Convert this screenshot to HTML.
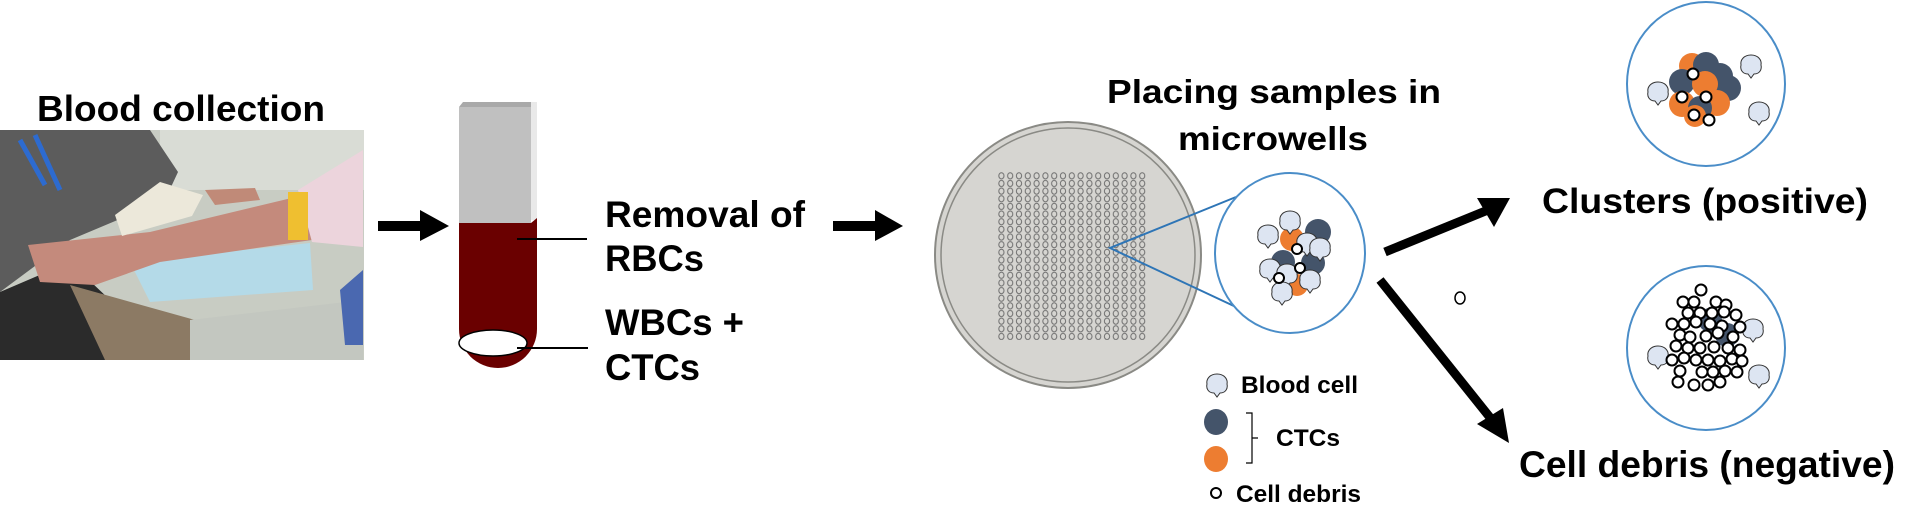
<!DOCTYPE html>
<html><head><meta charset="utf-8"><style>
html,body{margin:0;padding:0;background:#fff;}
svg{display:block;}
text{font-family:"Liberation Sans",Arial,sans-serif;font-weight:bold;fill:#000;}
</style></head><body>
<svg width="1922" height="523" viewBox="0 0 1922 523" xmlns="http://www.w3.org/2000/svg">
<defs>
<symbol id="bc" viewBox="-12 -12 24 26">
<path d="M-3,9 C-9,9 -11,4 -10,0 C-11,-5 -7,-10 0,-10 C7,-10 11,-5 10,0 C11,4 9,9 3,9 L0,13 Z" fill="#dde5f2" stroke="#333" stroke-width="1"/>
</symbol>
<pattern id="mw" x="997" y="172" width="8.8" height="7.65" patternUnits="userSpaceOnUse">
<ellipse cx="4.4" cy="3.8" rx="2.6" ry="3.1" fill="none" stroke="#6e6e6e" stroke-width="1"/>
</pattern>
</defs>

<!-- Photo -->
<g>
<rect x="0" y="130" width="364" height="230" fill="#c8ccc3"/>
<rect x="160" y="130" width="204" height="60" fill="#d9dcd5"/>
<polygon points="0,130 150,130 178,172 165,200 70,240 0,292" fill="#5c5c5c"/>
<polygon points="0,292 70,262 110,300 195,360 0,360" fill="#2b2b2b"/>
<polygon points="70,285 195,320 195,360 105,360" fill="#8c7a64"/>
<polygon points="190,320 363,300 363,360 190,360" fill="#c3c7c0"/>
<polygon points="130,262 310,243 313,290 150,302" fill="#b4dae8"/>
<polygon points="28,245 150,232 300,196 312,240 160,262 95,285 40,282" fill="#c48a7c"/>
<polygon points="298,190 363,150 363,247 312,242" fill="#ecd4dc"/>
<rect x="288" y="192" width="20" height="48" fill="#efbf30"/>
<polygon points="115,215 160,182 203,195 192,216 122,236" fill="#ece8da"/>
<polygon points="205,190 255,188 260,200 215,205" fill="#c08a78"/>
<path d="M20,140 L45,185 M35,135 L60,190" stroke="#2d6bd0" stroke-width="5"/>
<polygon points="340,290 363,270 363,345 345,345" fill="#4a68b0"/>
</g>
<text x="37" y="121" font-size="36" textLength="288" lengthAdjust="spacingAndGlyphs">Blood collection</text>

<!-- arrow 1 -->
<polygon points="378,221 420,221 420,210 449,226 420,241 420,231 378,231" fill="#000"/>

<!-- tube -->
<polygon points="459,107 463,102 537,102 531,107" fill="#a9a9a9"/>
<rect x="459" y="107" width="72" height="116" fill="#c0c0c0"/>
<rect x="531" y="102" width="6" height="118" fill="#e9e9e9"/>
<path d="M459,223 L531,223 L537,218 L537,329 A39,39 0 0 1 459,329 Z" fill="#6a0000"/>
<ellipse cx="493" cy="343" rx="34" ry="13" fill="#fff" stroke="#000" stroke-width="1.5"/>
<line x1="517" y1="239" x2="587" y2="239" stroke="#000" stroke-width="2"/>
<line x1="517" y1="348" x2="588" y2="348" stroke="#000" stroke-width="2"/>
<text x="605" y="227" font-size="37" textLength="200" lengthAdjust="spacingAndGlyphs">Removal of</text>
<text x="605" y="271" font-size="37" textLength="99" lengthAdjust="spacingAndGlyphs">RBCs</text>
<text x="605" y="335" font-size="37" textLength="139" lengthAdjust="spacingAndGlyphs">WBCs +</text>
<text x="605" y="380" font-size="37" textLength="95" lengthAdjust="spacingAndGlyphs">CTCs</text>

<!-- arrow 2 -->
<polygon points="833,221 875,221 875,210 903,226 875,241 875,231 833,231" fill="#000"/>

<!-- dish -->
<circle cx="1068" cy="255" r="133" fill="#d6d5d1" stroke="#8a8a85" stroke-width="2"/>
<circle cx="1068" cy="255" r="127" fill="none" stroke="#8a8a85" stroke-width="1.5"/>
<rect x="997" y="172" width="150" height="168" fill="url(#mw)"/>
<polyline points="1236,197 1110,248 1236,307" fill="none" stroke="#2e75b6" stroke-width="2"/>
<ellipse cx="1290" cy="253" rx="75" ry="80" fill="#fff" stroke="#4a8dc8" stroke-width="2"/>
<circle cx="1292" cy="239" r="12" fill="#ed7d31"/>
<circle cx="1318" cy="232" r="13" fill="#44546a"/>
<circle cx="1283" cy="262" r="12" fill="#44546a"/>
<circle cx="1313" cy="263" r="12" fill="#44546a"/>
<circle cx="1297" cy="285" r="11" fill="#ed7d31"/>
<use href="#bc" x="1256" y="223" width="24" height="26"/>
<use href="#bc" x="1278" y="209" width="24" height="26"/>
<use href="#bc" x="1295" y="231" width="24" height="26"/>
<use href="#bc" x="1308" y="236" width="24" height="26"/>
<use href="#bc" x="1258" y="257" width="24" height="26"/>
<use href="#bc" x="1275" y="262" width="24" height="26"/>
<use href="#bc" x="1298" y="268" width="24" height="26"/>
<use href="#bc" x="1270" y="280" width="24" height="26"/>
<circle cx="1297" cy="249" r="5" fill="#fff" stroke="#000" stroke-width="2"/>
<circle cx="1300" cy="268" r="5" fill="#fff" stroke="#000" stroke-width="2"/>
<circle cx="1279" cy="278" r="5" fill="#fff" stroke="#000" stroke-width="2"/>
<text x="1107" y="103" font-size="33" textLength="334" lengthAdjust="spacingAndGlyphs">Placing samples in</text>
<text x="1178" y="150" font-size="33" textLength="190" lengthAdjust="spacingAndGlyphs">microwells</text>

<!-- legend -->
<use href="#bc" x="1205" y="372" width="24" height="26"/>
<text x="1241" y="393" font-size="24" textLength="117" lengthAdjust="spacingAndGlyphs">Blood cell</text>
<ellipse cx="1216" cy="422" rx="12" ry="13" fill="#44546a"/>
<ellipse cx="1216" cy="459" rx="12" ry="13" fill="#ed7d31"/>
<path d="M1246,413 H1252 V463 H1246 M1252,438 H1258" fill="none" stroke="#000" stroke-width="1.2"/>
<text x="1276" y="446" font-size="24" textLength="64" lengthAdjust="spacingAndGlyphs">CTCs</text>
<circle cx="1216" cy="493" r="5" fill="#fff" stroke="#000" stroke-width="2"/>
<text x="1236" y="502" font-size="24" textLength="125" lengthAdjust="spacingAndGlyphs">Cell debris</text>

<!-- arrows out -->
<line x1="1385" y1="252" x2="1488" y2="210" stroke="#000" stroke-width="9"/>
<polygon points="1510,198 1477,198 1494,227" fill="#000"/>
<line x1="1380" y1="280" x2="1492" y2="420" stroke="#000" stroke-width="9"/>
<polygon points="1509,443 1477,424 1503,408" fill="#000"/>
<ellipse cx="1460" cy="298" rx="5" ry="6" fill="#fff" stroke="#000" stroke-width="1.5"/>

<!-- top circle -->
<ellipse cx="1706" cy="84" rx="79" ry="82" fill="#fff" stroke="#4a8dc8" stroke-width="2"/>
<circle cx="1692" cy="66" r="13" fill="#ed7d31"/>
<circle cx="1706" cy="65" r="13" fill="#44546a"/>
<circle cx="1720" cy="76" r="13" fill="#44546a"/>
<circle cx="1728" cy="88" r="13" fill="#44546a"/>
<circle cx="1682" cy="82" r="13" fill="#44546a"/>
<circle cx="1705" cy="84" r="13" fill="#ed7d31"/>
<circle cx="1682" cy="104" r="13" fill="#ed7d31"/>
<circle cx="1717" cy="103" r="13" fill="#ed7d31"/>
<circle cx="1700" cy="108" r="12" fill="#44546a"/>
<circle cx="1695" cy="116" r="11" fill="#ed7d31"/>
<circle cx="1693" cy="74" r="5.5" fill="#fff" stroke="#000" stroke-width="2"/>
<circle cx="1682" cy="97" r="5.5" fill="#fff" stroke="#000" stroke-width="2"/>
<circle cx="1706" cy="97" r="5.5" fill="#fff" stroke="#000" stroke-width="2"/>
<circle cx="1694" cy="115" r="5.5" fill="#fff" stroke="#000" stroke-width="2"/>
<circle cx="1709" cy="120" r="5.5" fill="#fff" stroke="#000" stroke-width="2"/>
<use href="#bc" x="1646" y="80" width="24" height="26"/>
<use href="#bc" x="1739" y="53" width="24" height="26"/>
<use href="#bc" x="1747" y="100" width="24" height="26"/>
<text x="1542" y="213" font-size="35" textLength="326" lengthAdjust="spacingAndGlyphs">Clusters (positive)</text>

<!-- bottom circle -->
<ellipse cx="1706" cy="348" rx="79" ry="82" fill="#fff" stroke="#4a8dc8" stroke-width="2"/>
<use href="#bc" x="1646" y="344" width="24" height="26"/>
<use href="#bc" x="1741" y="317" width="24" height="26"/>
<use href="#bc" x="1747" y="363" width="24" height="26"/>
<circle cx="1710" cy="320" r="12" fill="#44546a"/>
<circle cx="1727" cy="335" r="12" fill="#44546a"/>
<g fill="#fff" stroke="#000" stroke-width="2">
<circle cx="1701" cy="290" r="5.5"/>
<circle cx="1683" cy="302" r="5.5"/><circle cx="1694" cy="302" r="5.5"/><circle cx="1716" cy="302" r="5.5"/><circle cx="1726" cy="305" r="5.5"/>
<circle cx="1688" cy="313" r="5.5"/><circle cx="1700" cy="313" r="5.5"/><circle cx="1712" cy="313" r="5.5"/><circle cx="1724" cy="312" r="5.5"/><circle cx="1736" cy="315" r="5.5"/>
<circle cx="1672" cy="324" r="5.5"/><circle cx="1684" cy="324" r="5.5"/><circle cx="1696" cy="322" r="5.5"/><circle cx="1710" cy="324" r="5.5"/><circle cx="1722" cy="326" r="5.5"/><circle cx="1740" cy="327" r="5.5"/>
<circle cx="1680" cy="335" r="5.5"/><circle cx="1690" cy="337" r="5.5"/><circle cx="1706" cy="336" r="5.5"/><circle cx="1718" cy="333" r="5.5"/><circle cx="1733" cy="337" r="5.5"/>
<circle cx="1676" cy="346" r="5.5"/><circle cx="1688" cy="348" r="5.5"/><circle cx="1700" cy="348" r="5.5"/><circle cx="1714" cy="347" r="5.5"/><circle cx="1728" cy="348" r="5.5"/><circle cx="1740" cy="350" r="5.5"/>
<circle cx="1672" cy="360" r="5.5"/><circle cx="1684" cy="358" r="5.5"/><circle cx="1696" cy="360" r="5.5"/><circle cx="1708" cy="360" r="5.5"/><circle cx="1720" cy="361" r="5.5"/><circle cx="1732" cy="359" r="5.5"/><circle cx="1742" cy="361" r="5.5"/>
<circle cx="1680" cy="371" r="5.5"/><circle cx="1702" cy="372" r="5.5"/><circle cx="1713" cy="372" r="5.5"/><circle cx="1725" cy="371" r="5.5"/><circle cx="1737" cy="372" r="5.5"/>
<circle cx="1678" cy="382" r="5.5"/><circle cx="1694" cy="385" r="5.5"/><circle cx="1708" cy="385" r="5.5"/><circle cx="1720" cy="382" r="5.5"/>
</g>
<text x="1519" y="477" font-size="37" textLength="376" lengthAdjust="spacingAndGlyphs">Cell debris (negative)</text>
</svg>
</body></html>
